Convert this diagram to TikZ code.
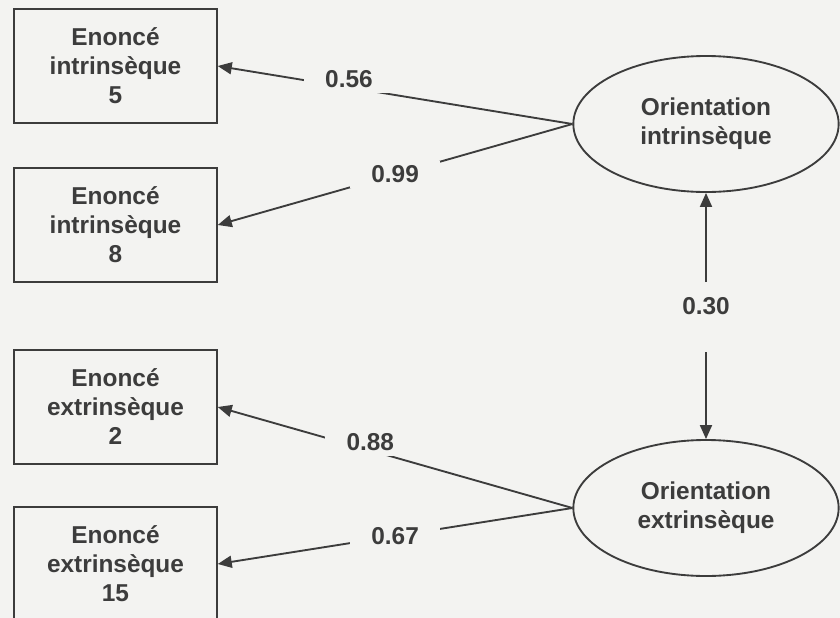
\documentclass[tikz,border=0pt]{standalone}
\usepackage{fontspec}
\setmainfont{Liberation Sans}
\usetikzlibrary{arrows.meta,shapes.geometric}
\definecolor{fondo}{RGB}{243,243,241}
\definecolor{tinta}{RGB}{60,60,60}

\begin{document}
\begin{tikzpicture}[x=0.75pt,y=-0.75pt,
    >={Triangle[length=10.5pt,width=9pt]},
    caja/.style={draw=tinta, line width=1.4pt, minimum width=152pt, minimum height=85.5pt,
        inner sep=0pt, align=center, text=tinta, font=\bfseries\fontsize{18.3}{21.75}\selectfont},
    factor/.style={ellipse, draw=tinta, line width=1.4pt, minimum width=199pt, minimum height=102pt,
        inner sep=0pt, align=center, text=tinta, font=\bfseries\fontsize{18.3}{21.75}\selectfont},
    flecha/.style={draw=tinta, line width=1.4pt, ->},
    peso/.style={fill=fondo, text=tinta, font=\bfseries\fontsize{18.3}{21.75}\selectfont,
        inner xsep=16pt, inner ysep=4pt}]
    % Define el fondo y el marco
    \fill[fondo] (0,0) rectangle (840,618);
    \useasboundingbox (0,0) rectangle (840,618);

    % Dibuja los enunciados
    \node[caja] (e5) at (115.5,66) {Enoncé\\intrinsèque\\5};
    \node[caja] (e8) at (115.5,225) {Enoncé\\intrinsèque\\8};
    \node[caja] (e2) at (115.5,407) {Enoncé\\extrinsèque\\2};
    \node[caja] (e15) at (115.5,564) {Enoncé\\extrinsèque\\15};

    % Dibuja las orientaciones
    \node[factor] (oi) at (706,124) {Orientation\\intrinsèque};
    \node[factor] (oe) at (706,508) {Orientation\\extrinsèque};

    % Dibuja las cargas
    \draw[flecha] (oi.west) -- (e5.east) node[peso, pos=0.63, yshift=6pt] {0.56};
    \draw[flecha] (oi.west) -- (e8.east) node[peso, pos=0.5] {0.99};
    \draw[flecha] (oe.west) -- (e2.east) node[peso, pos=0.57, yshift=6pt] {0.88};
    \draw[flecha] (oe.west) -- (e15.east) node[peso, pos=0.5] {0.67};

    % Dibuja la correlacion
    \node[text=tinta, font=\bfseries\fontsize{18.3}{21.75}\selectfont] (r) at (706,306) {0.30};
    \coordinate (r1) at (706,282);
    \coordinate (r2) at (706,352);
    \draw[flecha] (r1) -- (oi.south);
    \draw[flecha] (r2) -- (oe.north);
\end{tikzpicture}
\end{document}
